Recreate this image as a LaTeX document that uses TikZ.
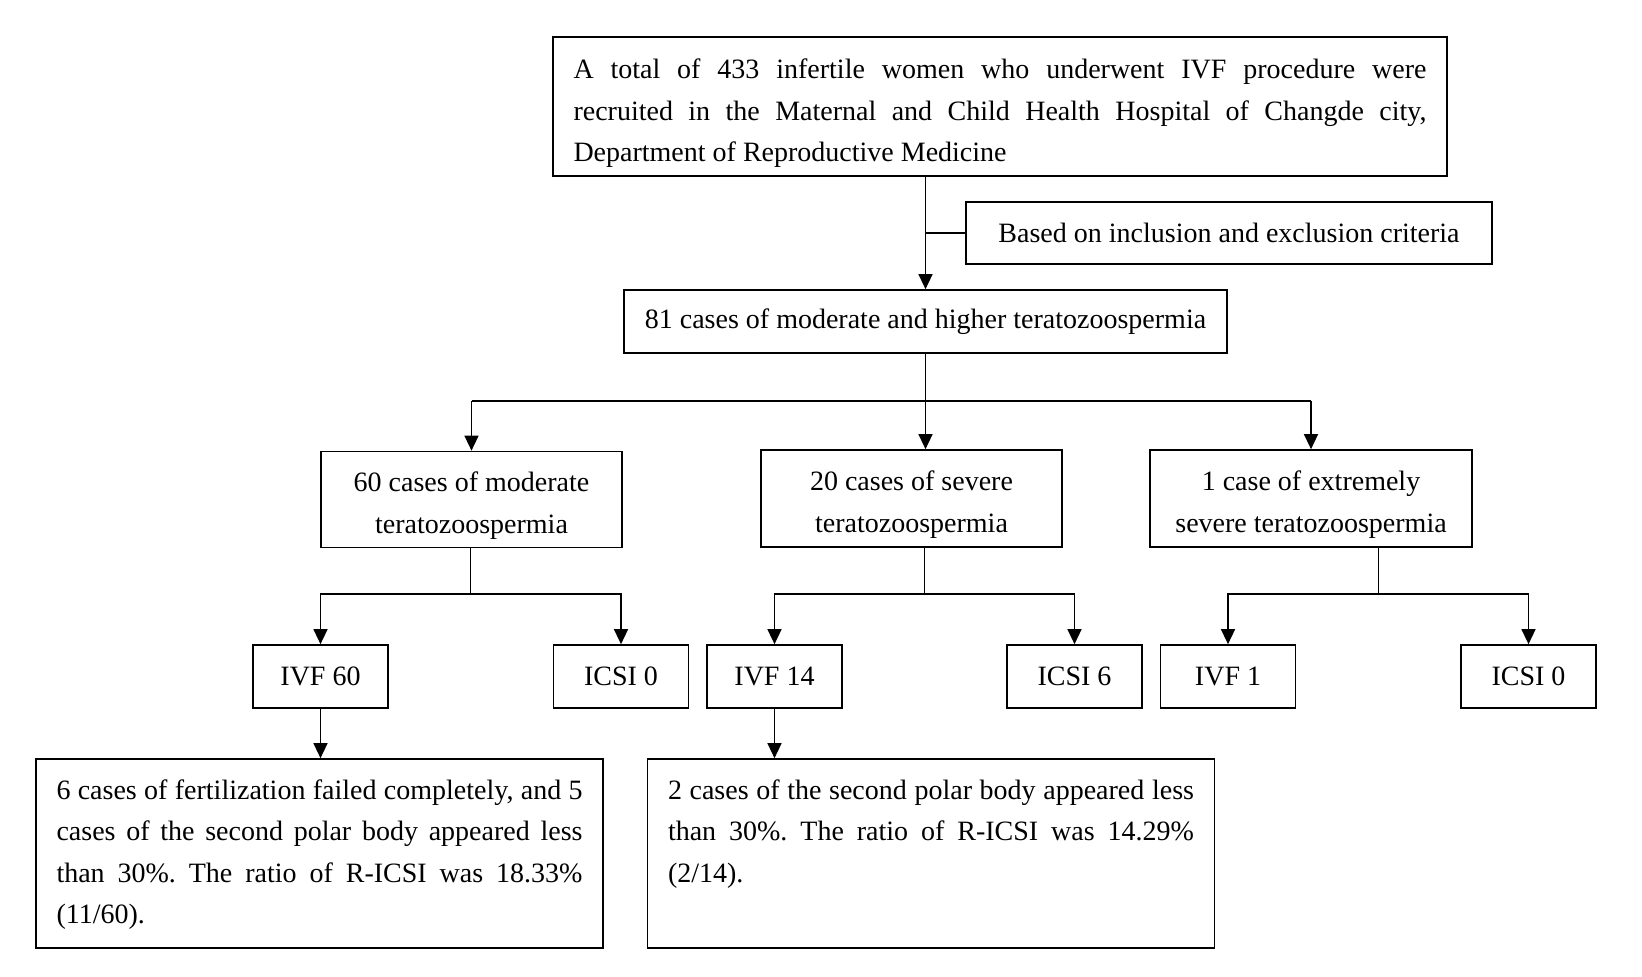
\documentclass[tikz,border=0pt]{standalone}
\usepackage{fontspec}
\setmainfont{Liberation Serif}
\usetikzlibrary{arrows.meta,calc}
\newcommand{\firstline}[1]{\rule{0pt}{#1}}
\tikzset{
  box/.style={draw, line width=0.85pt, inner sep=0pt, align=center,
    font=\fontsize{14}{20.75}\selectfont\frenchspacing},
  textbox/.style={box, inner xsep=10.25pt, align=justify},
  link/.style={line width=0.7pt},
  arr/.style={link, -{Triangle[length=7.5pt,width=7pt]}},
}
\begin{document}
\begin{tikzpicture}[x=0.5pt,y=-0.5pt]
\useasboundingbox (0,0) rectangle (1642,976);
% boxes
\node[textbox, text width=426.5pt, minimum height=69.5pt] (total) at (1000,106.5)
  {\firstline{16.5pt}A total of 433 infertile women who underwent IVF procedure were\linebreak
   recruited in the Maternal and Child Health Hospital of Changde city,\linebreak
   Department of Reproductive Medicine};
\node[box, minimum width=263pt, minimum height=31pt] (crit) at (1229,233) {Based on inclusion and exclusion criteria};
\node[box, minimum width=301.5pt, minimum height=31.5pt] (all) at (925.5,321.5) {81 cases of moderate and higher teratozoospermia};
\node[box, minimum width=150.5pt, minimum height=48pt] (moder) at (471.5,499.5) {\firstline{16pt}60 cases of moderate\\teratozoospermia};
\node[box, minimum width=150.5pt, minimum height=48.5pt] (sever) at (911.5,498.5) {\firstline{16pt}20 cases of severe\\teratozoospermia};
\node[box, minimum width=161pt, minimum height=48.5pt] (extre) at (1311,498.5) {\firstline{16pt}1 case of extremely\\severe teratozoospermia};
\node[box, minimum width=67.5pt, minimum height=31.5pt] (ivfA) at (320.5,676.5) {IVF 60};
\node[box, minimum width=67.5pt, minimum height=31.5pt] (icsiA) at (621,676.5) {ICSI 0};
\node[box, minimum width=67.5pt, minimum height=31.5pt] (ivfB) at (774.5,676.5) {IVF 14};
\node[box, minimum width=67.5pt, minimum height=31.5pt] (icsiB) at (1074.5,676.5) {ICSI 6};
\node[box, minimum width=67.5pt, minimum height=31.5pt] (ivfC) at (1228,676.5) {IVF 1};
\node[box, minimum width=67.5pt, minimum height=31.5pt] (icsiC) at (1528.5,676.5) {ICSI 0};
\node[textbox, text width=263pt] (resA) at (319.5,853.5)
  {\parbox[c][94.5pt][t]{263pt}{\firstline{20pt}6 cases of fertilization failed completely, and 5\linebreak
   cases of the second polar body appeared less\linebreak
   than 30\%. The ratio of R-ICSI was 18.33\%\linebreak
   (11/60).}};
\node[textbox, text width=263pt] (resB) at (931,853.5)
  {\parbox[c][94.5pt][t]{263pt}{\firstline{20pt}2 cases of the second polar body appeared less\linebreak
   than 30\%. The ratio of R-ICSI was 14.29\%\linebreak
   (2/14).}};
% connectors
\draw[arr] (total.south -| all.north) -- (all.north);
\draw[link] (crit.west) -- (crit.west -| all.north);
\coordinate (split) at ($(all.south)+(0,47)$);
\draw[link] (all.south) -- (split);
\draw[link] (split -| moder.north) -- (split -| extre.north);
\draw[arr] (split -| moder.north) -- (moder.north);
\draw[arr] (split) -- (split |- sever.north);
\draw[arr] (split -| extre.north) -- (extre.north);
\foreach \up/\l/\r in {moder/ivfA/icsiA, sever/ivfB/icsiB, extre/ivfC/icsiC}{
  \coordinate (mid\up) at ($(\l.north)!0.5!(\r.north)+(0,-50)$);
  \draw[link] (mid\up |- \up.south) -- (mid\up);
  \draw[arr] (mid\up) -| (\l.north);
  \draw[arr] (mid\up) -| (\r.north);
}
\draw[arr] (ivfA.south) -- (ivfA.south |- resA.north);
\draw[arr] (ivfB.south) -- (ivfB.south |- resB.north);
\end{tikzpicture}
\end{document}
